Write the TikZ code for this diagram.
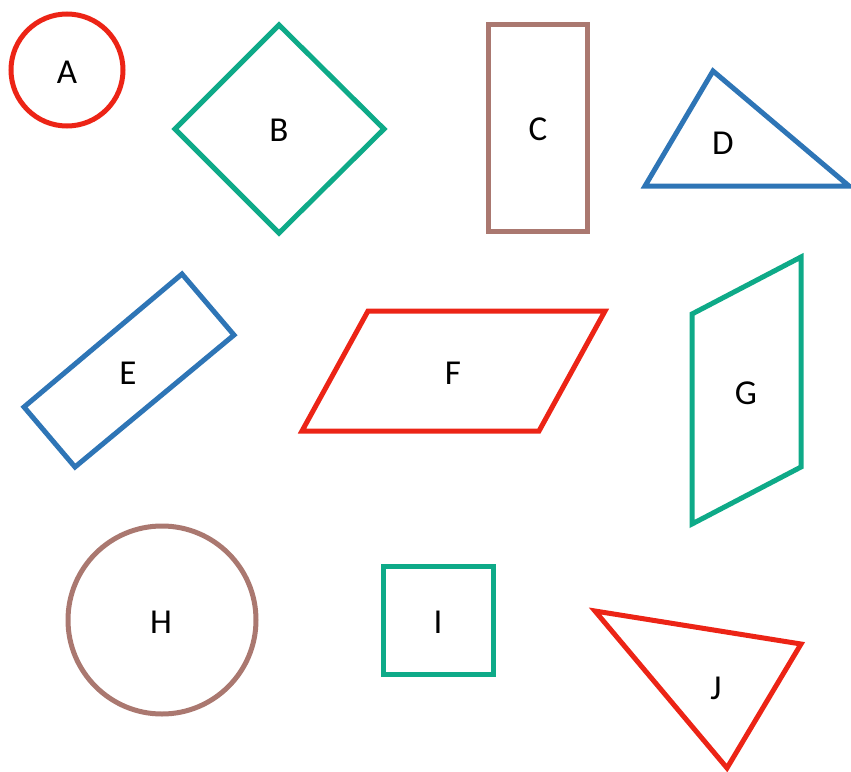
\documentclass[tikz,border=0pt]{standalone}
\usepackage{fontspec}
\setmainfont{Carlito}
\definecolor{shapered}{RGB}{236,36,22}
\definecolor{shapeteal}{RGB}{14,170,136}
\definecolor{shapebrown}{RGB}{170,120,112}
\definecolor{shapeblue}{RGB}{46,117,182}
\begin{document}
\begin{tikzpicture}[
      x=1pt,
      y=-1pt,
      line join=miter,
      outline/.style={line width=5pt},
      tag/.style={font=\fontsize{35}{35}\selectfont, inner sep=0pt}
    ]
    \useasboundingbox (0,0) rectangle (851,771);
    % top row
    \draw [outline, shapered] (67,70) circle [radius=56];
    \draw [outline, shapeteal] (279,25) -- (384,129) -- (279,233) -- (175,129) -- cycle;
    \draw [outline, shapebrown] (488,24) rectangle (587,231);
    \draw [outline, shapeblue] (713,71) -- (849,186) -- (645,186) -- cycle;
    % middle row
    \draw [outline, shapeblue] (182,274) -- (234,335) -- (75,467) -- (24,407) -- cycle;
    \draw [outline, shapered] (368,311) -- (605,311) -- (539,431) -- (302,431) -- cycle;
    \draw [outline, shapeteal] (692,314) -- (801,257) -- (801,467) -- (692,524) -- cycle;
    % bottom row
    \draw [outline, shapebrown] (162,620) circle [radius=94];
    \draw [outline, shapeteal] (383,566) rectangle (493,674);
    \draw [outline, shapered] (595,611) -- (801,644) -- (727,768) -- cycle;
    % labels
    \node (A) [tag] at (67,72) {A};
    \node (B) [tag] at (279,130) {B};
    \node (C) [tag] at (538,129) {C};
    \node (D) [tag] at (723,143) {D};
    \node (E) [tag] at (128,373) {E};
    \node (F) [tag] at (453,373) {F};
    \node (G) [tag] at (746,393) {G};
    \node (H) [tag] at (161,622) {H};
    \node (I) [tag] at (438,622) {I};
    \node (J) [tag] at (716,688) {J};
  \end{tikzpicture}
\end{document}
